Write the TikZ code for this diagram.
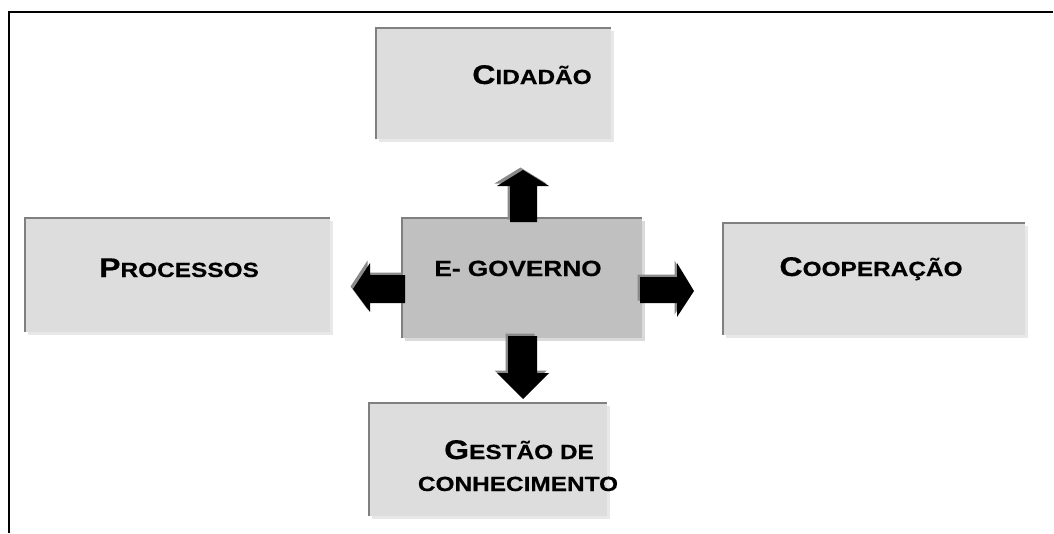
\documentclass[tikz,border=0pt]{standalone}
\usepackage{fontspec}
\usepackage{graphicx}
\setmainfont{Liberation Sans}
\newfontfamily\lbfont[FakeBold=0.4]{Liberation Sans Bold}
\usetikzlibrary{fit,shadows}
\definecolor{boxfill}{HTML}{DDDDDD}
\definecolor{govfill}{HTML}{C0C0C0}
\definecolor{edgec}{HTML}{808080}
\definecolor{shadowc}{HTML}{E8E8E8}
\definecolor{govshadow}{HTML}{DADADA}
\definecolor{arrowsh}{HTML}{8A8A8A}
\newcommand\capsA[2]{{\fontsize{27}{27}\selectfont #1}{\fontsize{20.5}{20.5}\selectfont #2}}
\newcommand\stretchtxt[1]{\scalebox{1.19}[1]{\lbfont #1}}
\newcommand\blockarr[1]{\fill[arrowsh] [shift={(-2.5,-2.5)}] #1; \fill[black] #1;}
\tikzset{
  outerbox/.style={rectangle, fill=boxfill, inner sep=0pt,
    drop shadow={shadow xshift=3pt, shadow yshift=-3pt, fill=shadowc, opacity=1}},
  govbox/.style={rectangle, fill=govfill, inner sep=0pt,
    drop shadow={shadow xshift=3pt, shadow yshift=-3pt, fill=govshadow, opacity=1}},
  edge/.style={draw=edgec, line width=2pt},
  lbl/.style={anchor=base, inner sep=0pt, font=\lbfont},
  frame/.style={line width=1.6pt, draw=black}
}
\begin{document}
\begin{tikzpicture}[x=1pt,y=-1pt]
\useasboundingbox (0,0) rectangle (1054,533);
\fill[white] (0,0) rectangle (1054,533);
% frame
\coordinate (fa) at (9,533);
\coordinate (fb) at (9,12);
\coordinate (fc) at (1053,12);
\draw[frame] (fa) -- (fb) -- (fc);
% boxes
\node[outerbox, fit={(376,28) (611,139)}] (cid) {};
\node[outerbox, fit={(25,218) (330,332)}] (pro) {};
\node[outerbox, fit={(723,223) (1025,335)}] (coo) {};
\node[outerbox, fit={(369,403) (607,516)}] (ges) {};
\node[govbox, fit={(402,218) (642,338)}] (gov) {};
\foreach \b in {cid,pro,coo,ges,gov}
  \draw[edge] (\b.south west) -- (\b.north west) -- (\b.north east);
% arrows
\blockarr{(510,222) -- (510,186) -- (497,186) -- (523,170) -- (549,186) -- (537,186) -- (537,222) -- cycle}
\blockarr{(508,336) -- (508,373) -- (497,373) -- (523,399) -- (549,373) -- (537,373) -- (537,336) -- cycle}
\blockarr{(640,277) -- (677,277) -- (677,263) -- (694,291) -- (677,317) -- (677,303) -- (640,303) -- cycle}
\blockarr{(405,275) -- (370,275) -- (370,263) -- (353,289) -- (370,312) -- (370,303) -- (405,303) -- cycle}
% labels
\node[lbl] (tcid) at (532,84) {\stretchtxt{\capsA{C}{IDADÃO}}};
\node[lbl] (tpro) at (179,277) {\stretchtxt{\capsA{P}{ROCESSOS}}};
\node[lbl] (tcoo) at (871,276) {\stretchtxt{\capsA{C}{OOPERAÇÃO}}};
\node[lbl] (tgov) at (518,276) {\stretchtxt{\fontsize{22}{22}\selectfont E- GOVERNO}};
\node[lbl] (tges1) at (519,459) {\stretchtxt{\capsA{G}{ESTÃO DE}}};
\node[lbl] (tges2) at (518,491) {\stretchtxt{\fontsize{20.5}{20.5}\selectfont CONHECIMENTO}};
\end{tikzpicture}
\end{document}
